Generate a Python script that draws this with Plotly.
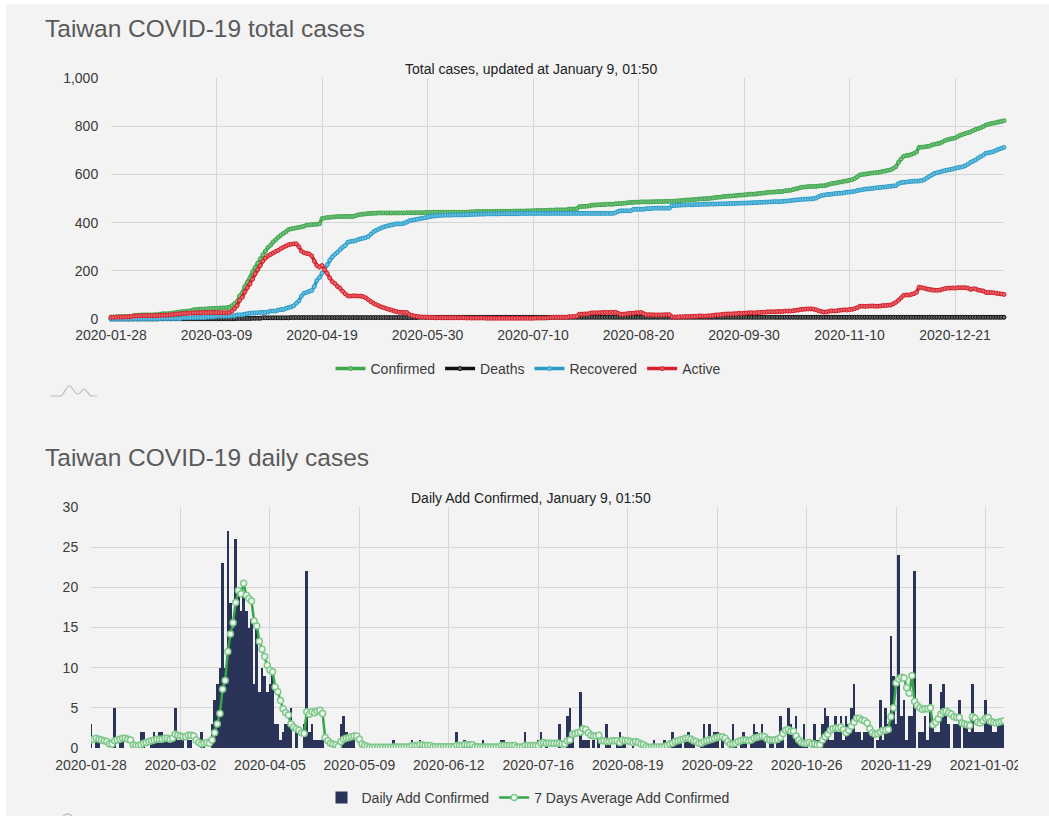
import pandas as pd
import plotly.graph_objects as go

START_DATE = "2020-01-28"
END_DATE = "2021-01-09"
TOP_TICKS = ["2020-01-28","2020-03-09","2020-04-19","2020-05-30","2020-07-10","2020-08-20","2020-09-30","2020-11-10","2020-12-21"]
LOW_TICKS = ["2020-01-28","2020-03-02","2020-04-05","2020-05-09","2020-06-12","2020-07-16","2020-08-19","2020-09-22","2020-10-26","2020-11-29","2021-01-02"]

confirmed = [
8,8,9,10,10,10,10,10,11,15, 15,16,17,17,17,17,17,18,18,20,
22,22,22,23,25,26,28,30,31,32, 33,34,38,39,40,41,41,42,43,43,
44,44,45,46,46,47,49,55,63,73, 96,108,135,153,170,195,214,232,250,267,
282,297,306,320,329,339,348,355,362,371, 374,376,378,380,382,385,390,390,392,392,
393,395,417,419,421,422,423,424,425,425, 425,425,425,425,425,428,432,434,435,436,
438,438,439,439,440,440,440,440,440,440, 440,440,440,440,440,441,441,441,441,441,
441,441,442,442,442,443,443,443,443,443, 443,443,443,443,443,443,443,443,443,444,
445,445,446,446,446,446,446,446,446,447, 447,447,447,447,447,447,447,448,448,448,
448,448,449,449,449,450,450,450,450,450, 451,452,452,453,453,453,453,453,456,456,
456,458,466,467,467,468,470,473,473,474, 474,475,475,476,476,476,478,479,479,480,
481,483,484,484,485,485,486,486,486,486, 486,487,487,487,487,488,488,488,489,489,
490,491,492,493,494,494,495,496,497,498, 498,498,499,501,502,504,505,506,508,509,
510,510,511,512,514,514,515,516,518,518, 518,519,521,522,523,525,526,526,527,528,
528,529,532,533,534,537,540,542,546,547, 548,550,550,550,550,552,553,553,555,559,
562,563,565,568,569,572,573,576,578,583, 590,598,600,601,603,605,606,607,608,610,
613,614,617,619,625,632,650,664,675,678, 679,683,687,693,712,713,714,716,717,722,
725,727,729,734,740,744,747,749,751,757, 763,766,770,773,776,782,787,790,794,799,
805,808,811,813,815,818,820,823]

deaths = [0]*19 + [1]*30 + [2]*6 + [3]*4 + [5]*11 + [6]*50 + [7]*228

recovered = [
0,0,0,0,0,0,0,0,0,1, 1,1,1,1,1,1,1,1,1,2,
2,2,2,2,2,2,2,2,5,5, 5,5,5,6,6,6,6,7,8,9,
9,12,12,12,12,12,12,13,14,17, 17,17,20,22,24,25,25,26,27,27,
27,29,33,33,33,37,39,39,44,48, 50,55,65,75,95,107,110,115,118,135,
160,172,190,205,225,245,258,268,277,288, 298,305,318,322,323,325,330,333,335,338,
342,352,362,368,373,378,382,385,388,390, 393,395,395,395,398,402,408,410,412,414,
416,418,420,423,426,427,428,429,430,430, 431,431,431,432,432,432,432,432,433,433,
434,434,435,435,435,435,436,436,436,436, 436,436,437,437,437,437,437,437,437,438,
438,438,438,438,438,438,438,438,438,438, 438,438,438,438,438,438,438,438,438,438,
438,438,438,438,438,438,438,438,438,438, 438,438,438,438,438,438,441,446,449,449,
449,449,449,455,455,455,455,455,458,458, 458,460,460,460,460,460,460,460,470,471,
472,472,473,473,474,474,474,475,475,475, 476,476,476,477,477,477,478,478,478,478,
479,479,479,480,480,481,481,481,482,482, 483,483,484,484,485,485,486,486,487,487,
487,488,489,490,491,493,494,495,496,497, 497,498,498,499,502,508,512,514,516,517,
518,520,521,522,522,524,526,527,528,530, 533,535,537,539,540,541,542,544,545,546,
547,548,550,551,552,553,562,566,567,568, 570,571,572,572,573,574,578,585,592,598,
604,607,610,613,616,618,620,622,625,628, 630,632,636,642,650,655,660,668,674,680,
688,690,692,695,700,705,708,712]

active = [
7,7,8,8,8,8,9,9,10,13, 13,13,14,14,14,14,14,14,14,15,
16,16,16,17,19,20,21,22,23,23, 24,25,25,26,26,26,27,27,27,27,
27,27,26,26,25,26,27,33,43,55, 78,90,112,130,145,165,188,205,222,240,
252,262,268,274,280,285,292,298,303,308, 310,312,312,300,282,275,272,270,262,240,
222,215,222,205,190,170,155,147,135,128, 115,105,96,95,96,96,95,95,93,88,
80,72,65,60,55,50,47,43,40,37, 33,30,28,27,27,27,18,15,12,10,
9,8,8,7,6,6,5,5,5,5, 5,5,5,5,5,5,5,5,4,4,
4,4,4,4,4,4,3,3,3,3, 3,3,3,3,3,3,3,3,3,3,
3,3,3,3,3,4,4,4,4,4, 5,6,7,7,7,7,7,7,10,10,
10,12,20,20,21,21,23,26,25,26, 26,27,27,27,27,27,28,24,20,20,
21,23,24,24,26,26,27,22,18,18, 18,17,17,17,17,18,18,18,9,8,
8,9,9,10,10,10,11,11,12,13, 12,12,13,14,15,17,17,18,20,21,
21,21,22,22,24,23,24,25,26,26, 25,26,27,28,28,30,30,30,30,31,
31,31,33,33,33,34,36,37,40,40, 41,42,42,41,38,34,31,29,29,32,
34,33,34,36,37,38,37,39,40,43, 47,53,53,52,53,54,54,53,53,54,
56,56,57,58,63,69,78,88,98,100, 99,102,105,111,132,130,128,124,122,120,
119,119,120,123,126,128,128,129,128,130, 130,130,130,128,123,125,125,120,118,116,
110,110,110,109,107,105,104,102]

daily = [
3,0,1,1,0,0,0,0,0,5, 0,1,1,0,0,0,0,0,0,2,
2,0,0,1,2,1,2,2,1,1, 1,1,5,1,1,1,0,1,1,0,
0,0,2,1,0,0,3,6,8,10, 23,10,27,18,15,26,19,17,19,17,
15,16,8,15,7,10,9,7,8,10, 3,3,1,2,3,3,5,0,2,0,
0,3,22,2,3,1,1,1,1,0, 0,0,0,0,0,3,4,2,1,1,
1,0,0,0,0,0,0,0,0,0, 0,0,0,0,0,1,0,0,0,0,
0,0,1,0,0,1,0,0,0,0, 0,0,0,0,0,0,0,0,0,2,
0,0,1,0,0,0,0,0,0,1, 0,0,0,0,0,0,1,1,0,0,
0,0,0,0,0,2,0,0,0,0, 1,2,0,1,0,0,0,0,3,0,
0,4,5,2,0,0,7,1,1,1, 0,1,0,2,0,0,3,1,0,0,
1,2,1,1,0,0,1,0,0,0, 0,0,0,0,1,0,0,0,1,0,
1,2,1,1,1,0,1,2,1,1, 0,0,1,3,1,3,1,2,2,0,
1,0,0,1,3,1,0,1,2,1, 0,1,3,2,1,3,1,0,1,1,
0,1,4,1,0,5,3,2,4,1, 1,3,1,0,0,3,1,0,3,5,
4,1,1,4,2,4,1,4,3,5, 8,2,2,1,2,2,2,2,0,1,
6,1,5,3,14,9,3,24,4,6, 1,4,4,22,0,2,2,4,1,8,
3,2,2,7,8,4,3,0,3,3, 6,0,3,3,2,8,2,2,2,2,
6,3,3,2,2,3,3,3]

avg7 = [
1.0,1.1,1.2,1.1,1.0,.9,.8,.5,.5,.9, 1.0,1.1,1.2,1.2,1.1,1.0,.4,.3,.3,.4,
.6,.7,.8,.9,1.0,1.1,1.1,1.1,1.2,1.2, 1.1,1.2,1.7,1.6,1.5,1.4,1.4,1.6,1.6,1.5,
1.0,.7,.5,.6,.7,.6,1.0,1.9,3.0,4.3, 7.3,8.4,12,14.2,15.6,18.1,19.6,19.2,20.5,19,
18.6,18.3,15.8,15.2,13.3,12.3,11.4,10.3,9.7,9.5, 7.6,7,5.9,4.9,4.4,4.1,3,2.6,2.4,2.2,
1.9,1.8,4.5,4.2,4.5,4.4,4.6,4.7,4.3,1.3, .9,.6,.5,.4,.2,.8,1.1,1.2,1.3,1.4,
1.5,1.5,1.1,.5,.3,.2,.1,.1,.1,.1, .1,.1,.1,.1,.1,.14,.14,.14,.14,.14,
.14,.14,.3,.3,.3,.4,.4,.3,.3,.3, .15,.15,.15,.15,.15,.15,.15,.15,.15,.3,
.3,.3,.4,.4,.4,.4,.15,.15,.14,.14, .14,.14,.14,.14,.14,.14,.3,.3,.3,.3,
.3,.3,.14,.14,.14,.3,.3,.3,.3,.3, .3,.6,.7,.6,.6,.6,.6,.6,.6,.5,
.5,.9,1.0,1.7,1.8,1.9,2.0,2.4,2.3,1.9, 1.6,1.5,1.5,1.6,.9,.9,.8,.8,.9,.9,
.9,.7,1.0,.9,.9,.8,.7,.8,.7,.5, .4,.2,.1,.1,.14,.14,.14,.14,.2,.3,
.5,.6,.8,.9,1.0,1.1,1.2,1.2,1.1,.9, .8,.6,.6,.8,.9,1.0,1.1,1.2,1.3,1.4,
1.4,1.2,.8,.5,.5,.6,.8,.9,1.0,1.0, .9,1.0,1.2,1.3,1.4,1.5,1.4,1.1,1.0,1.0,
1.0,1.1,1.3,1.8,2.2,2.3,2.1,2.1,1.5,1.0, .7,.6,.6,.7,.5,.5,.4,.4,1.0,1.4,
1.7,2.2,2.4,2.5,2.5,2.6,2.3,1.9,2.2,2.7, 3.2,3.7,3.7,3.5,3.4,3.1,2.4,1.9,1.7,1.8,
2.0,2.2,2.2,2.3,3.9,5.0,8.1,8.6,8.8,8.7, 7.5,6.8,9.0,5.8,5.3,5.0,4.8,4.9,4.9,5.0,
2.9,3.2,3.6,4.2,4.5,4.6,4.4,4.2,3.9,3.8, 3.8,3.1,3.0,2.9,2.8,3.9,3.7,3.2,3.1,3.4,
3.7,3.8,3.3,3.2,3.1,3.2,3.3,3.4]

for s in (confirmed, deaths, recovered, active, daily, avg7):
    assert len(s) == 348, len(s)

W, H = 1049, 816
FONT = "Liberation Sans"
BG = "#f3f3f3"
GRID = "#d6d6d6"
TXT = "#3a3a3a"
def px(x): return x / W
def py(y): return 1 - y / H

dates = pd.date_range(START_DATE, periods=len(daily), freq="D")
fig = go.Figure()

def total(name, vals, color, fillc):
    fig.add_trace(go.Scatter(
        x=dates, y=vals, name=name, mode="lines+markers", cliponaxis=False,
        line=dict(color=color, width=3.5),
        marker=dict(size=4, color=fillc, line=dict(color=color, width=1)),
        xaxis="x", yaxis="y", legend="legend"))

total("Confirmed", confirmed, "#3fa64c", "#74c07e")
total("Deaths", deaths, "#111111", "#666666")
total("Recovered", recovered, "#2a9cc8", "#6cc0e0")
total("Active", active, "#d4212b", "#e8666c")

fig.add_trace(go.Bar(
    x=dates, y=daily, name="Daily Add Confirmed", width=86400000,
    marker=dict(color="#2a3358", line=dict(width=0)),
    xaxis="x2", yaxis="y2", legend="legend2"))
fig.add_trace(go.Scatter(
    x=dates, y=avg7, name="7 Days Average Add Confirmed", mode="lines+markers",
    line=dict(color="#37a648", width=2.5),
    marker=dict(size=6, color="#f0f8f0", line=dict(color="#7fc88c", width=1.5)),
    xaxis="x2", yaxis="y2", legend="legend2"))

axis_common = dict(
    showgrid=True, gridcolor=GRID, gridwidth=1, zeroline=False,
    showline=False, tickfont=dict(family=FONT, size=14, color=TXT),
    ticks="outside", tickcolor="rgba(0,0,0,0)")

legend_common = dict(orientation="h", xanchor="center", yanchor="middle",
                     font=dict(family=FONT, size=14, color=TXT),
                     bgcolor="rgba(0,0,0,0)", itemwidth=30, itemsizing="trace",
                     traceorder="normal", itemclick=False, itemdoubleclick=False)

shapes = [
    dict(type="rect", xref="paper", yref="paper", x0=px(6), x1=1, y0=0, y1=py(4),
         fillcolor=BG, line_width=0, layer="below"),
    dict(type="rect", xref="paper", yref="paper", x0=px(1018), x1=1, y0=py(772), y1=py(752),
         fillcolor=BG, line_width=0, layer="above"),
    dict(type="path", xref="paper", yref="paper",
         path=f"M {px(50)},{py(396)} L {px(60)},{py(396)} C {px(64)},{py(396)} {px(66)},{py(386)} {px(69)},{py(386)} "
              f"C {px(73)},{py(386)} {px(74)},{py(394)} {px(78)},{py(394)} C {px(81)},{py(394)} {px(82)},{py(389)} {px(84)},{py(389)} "
              f"C {px(87)},{py(389)} {px(88)},{py(396)} {px(92)},{py(396)} L {px(97)},{py(396)}",
         line=dict(color="#bdbdbd", width=1.2), layer="below"),
    dict(type="circle", xref="paper", yref="paper", x0=px(63), x1=px(72), y0=py(823), y1=py(814),
         line=dict(color="#bdbdbd", width=1.5), layer="below"),
]

annotations = [
    dict(text="Taiwan COVID-19 total cases", x=px(43), y=py(29), xanchor="left", yanchor="middle",
         font=dict(family=FONT, size=24.5, color="#5a5a5a")),
    dict(text="Taiwan COVID-19 daily cases", x=px(43), y=py(457), xanchor="left", yanchor="middle",
         font=dict(family=FONT, size=24.5, color="#5a5a5a")),
    dict(text="Total cases, updated at January 9, 01:50", x=px(530.5), y=py(69), xanchor="center", yanchor="middle",
         font=dict(family=FONT, size=14, color="#222222")),
    dict(text="Daily Add Confirmed, January 9, 01:50", x=px(530.5), y=py(498), xanchor="center", yanchor="middle",
         font=dict(family=FONT, size=14, color="#222222")),
]
for a in annotations:
    a.update(xref="paper", yref="paper", showarrow=False)

fig.update_layout(
    width=W, height=H, autosize=False,
    margin=dict(l=0, r=0, t=0, b=0, pad=0, autoexpand=False),
    paper_bgcolor="#ffffff", plot_bgcolor="rgba(0,0,0,0)", bargap=0, barmode="overlay",
    xaxis=dict(domain=[px(111), px(1004)], anchor="y", type="date", range=[START_DATE, END_DATE],
               tickvals=TOP_TICKS, ticktext=TOP_TICKS, ticklen=3, **axis_common),
    yaxis=dict(domain=[py(319), py(78)], anchor="x", range=[0, 1000], dtick=200, tickformat=",",
               ticklen=9, **axis_common),
    xaxis2=dict(domain=[px(91), px(1004)], anchor="y2", type="date", range=[START_DATE, END_DATE],
                tickvals=LOW_TICKS, ticktext=LOW_TICKS, ticklen=4, **axis_common),
    yaxis2=dict(domain=[py(748), py(507)], anchor="x2", range=[0, 30], dtick=5,
                ticklen=9, **axis_common),
    legend=dict(x=px(528), y=py(369), **legend_common),
    legend2=dict(x=px(528), y=py(798), **legend_common),
    showlegend=True, shapes=shapes, annotations=annotations,
)

fig.write_html("out.html", config=dict(displayModeBar=False),
               post_script="document.body.style.margin='0';document.body.style.overflow='hidden';")
